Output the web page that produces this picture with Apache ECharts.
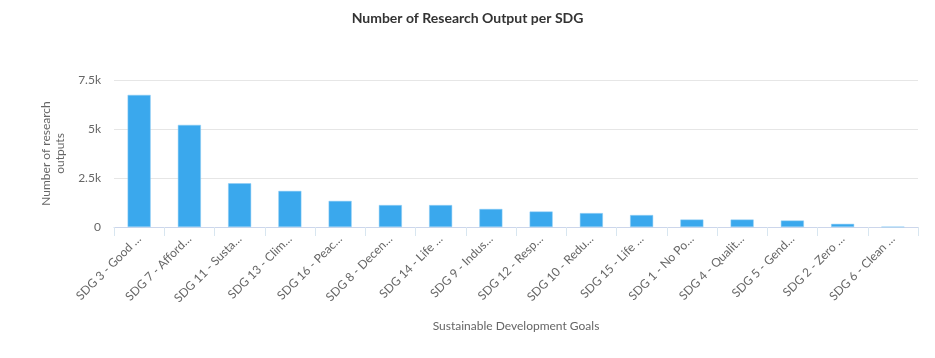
<!DOCTYPE html>
<html><head><meta charset="utf-8">
<script src="https://cdn.jsdelivr.net/npm/echarts@6/dist/echarts.min.js"></script>
<style>html,body{margin:0;padding:0;background:#fff}#c{width:935px;height:358px}</style>
</head><body><div id="c"></div>
<script>
var categories = ["SDG 3 - Good …","SDG 7 - Afford…","SDG 11 - Susta…","SDG 13 - Clim…","SDG 16 - Peac…","SDG 8 - Decen…","SDG 14 - Life …","SDG 9 - Indus…","SDG 12 - Resp…","SDG 10 - Redu…","SDG 15 - Life …","SDG 1 - No Po…","SDG 4 - Qualit…","SDG 5 - Gend…","SDG 2 - Zero …","SDG 6 - Clean …"];
var outputs = [6740,5210,2230,1840,1330,1120,1120,920,790,710,610,380,380,330,160,10];
var yTicks = ["0","2.5k","5k","7.5k"];
var FONT = "Lato, 'Open Sans', sans-serif";
var chart = echarts.init(document.getElementById('c'));
chart.setOption({
  animation:false,
  title:{text:"Number of Research Output per SDG",left:'center',top:6,textStyle:{fontFamily:FONT,fontSize:14,fontWeight:'bold',color:'#333'}},
  grid:{left:114,right:17,top:80,bottom:131,containLabel:false},
  xAxis:{type:'category',data:categories,
    name:"Sustainable Development Goals",nameLocation:'middle',nameGap:93,
    nameTextStyle:{fontFamily:FONT,fontSize:12,color:'#666'},
    axisLine:{lineStyle:{color:'#ccd6eb'}},
    axisTick:{show:true,length:9,lineStyle:{color:'#d8e6f0'}},
    axisLabel:{rotate:45,interval:0,margin:10,fontFamily:FONT,fontSize:12,color:'#666'}},
  yAxis:{type:'value',min:0,max:7500,interval:2500,
    name:"Number of research\noutputs",nameLocation:'middle',nameGap:43,nameRotate:90,
    nameTextStyle:{fontFamily:FONT,fontSize:12,color:'#666',lineHeight:14},
    axisLine:{show:false},axisTick:{show:false},
    axisLabel:{margin:13,fontFamily:FONT,fontSize:12,color:'#666',formatter:function(v){return yTicks[Math.round(v/2500)];}},
    splitLine:{lineStyle:{color:'#e6e6e6'}}},
  series:[{type:'bar',data:outputs,barWidth:23,itemStyle:{color:'#3aa8ed',borderColor:'#8fcdf4',borderWidth:0.5}}]
});
</script></body></html>
